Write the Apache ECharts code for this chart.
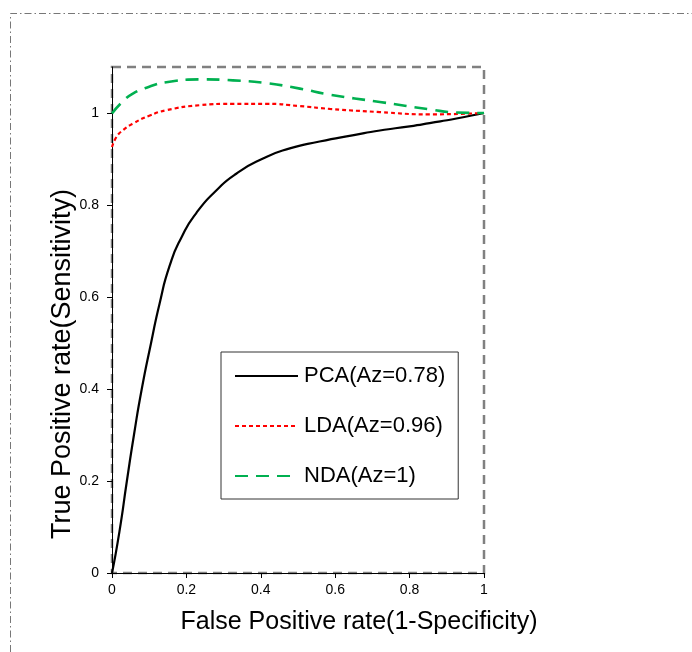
<!DOCTYPE html>
<html>
<head>
<meta charset="utf-8">
<script src="https://cdn.jsdelivr.net/npm/echarts@6/dist/echarts.min.js"></script>
<style>html,body{margin:0;padding:0;background:#fff;}#c{width:692px;height:652px;}</style>
</head>
<body>
<div id="c"></div>
<script>
const seriesNames = ['PCA(Az=0.78)', 'LDA(Az=0.96)', 'NDA(Az=1)'];
const pcaData = [[0,0],[0.02,0.09],[0.04,0.2],[0.059,0.3],[0.08,0.4],[0.105,0.5],[0.128,0.586],[0.155,0.668],[0.187,0.73],[0.227,0.783],[0.281,0.832],[0.334,0.868],[0.406,0.901],[0.478,0.923],[0.558,0.938],[0.65,0.952],[0.72,0.962],[0.8,0.971],[0.854,0.978],[0.926,0.988],[1,1]];
const ldaData = [[0,0.926],[0.012,0.948],[0.03,0.963],[0.056,0.977],[0.1,0.994],[0.146,1.006],[0.236,1.017],[0.325,1.02],[0.415,1.02],[0.505,1.015],[0.585,1.009],[0.72,1.002],[0.854,0.997],[1,1]];
const ndaData = [[0,0.999],[0.025,1.022],[0.056,1.042],[0.1,1.057],[0.146,1.067],[0.236,1.073],[0.325,1.071],[0.415,1.065],[0.505,1.053],[0.585,1.04],[0.72,1.024],[0.854,1.008],[0.926,1.001],[1,1]];
const xTicks = [0, 0.2, 0.4, 0.6, 0.8, 1];
const yTicks = [0, 0.2, 0.4, 0.6, 0.8, 1];
const xTitle = 'False Positive rate(1-Specificity)';
const yTitle = 'True Positive rate(Sensitivity)';

const chart = echarts.init(document.getElementById('c'), null, {renderer: 'canvas'});
const font = 'Liberation Sans, Arial, sans-serif';
chart.setOption({
  animation: false,
  backgroundColor: '#fff',
  graphic: [{
    type: 'polyline',
    shape: {points: [[10.5, 652], [10.5, 13.5], [692, 13.5]]},
    style: {stroke: '#777', lineWidth: 1, lineDash: [7, 3, 1.5, 3], fill: null},
    z: 0
  }, {
    type: 'text', x: 359, y: 622,
    style: {text: xTitle, font: '25px ' + font, fill: '#000', align: 'center', verticalAlign: 'middle'}
  }, {
    type: 'text', x: 63, y: 364, rotation: Math.PI / 2,
    style: {text: yTitle, font: '27px ' + font, fill: '#000', align: 'center', verticalAlign: 'middle'}
  }],
  grid: {
    left: 112, right: 208, top: 67, bottom: 79,
    show: true, borderColor: '#808080', borderWidth: 2.5, borderType: [9, 6],
    backgroundColor: 'transparent'
  },
  legend: {
    data: seriesNames,
    orient: 'vertical',
    left: 221, top: 352,
    backgroundColor: '#fff',
    borderColor: '#333', borderWidth: 1,
    padding: [12, 13, 11, 13],
    itemWidth: 63, itemHeight: 20, itemGap: 26,
    itemStyle: {opacity: 0, borderWidth: 0},
    textStyle: {fontFamily: font, fontSize: 22, color: '#000', lineHeight: 24, padding: [0, 0, 0, 1]},
    z: 10
  },
  xAxis: {
    type: 'value', min: 0, max: 1, interval: 0.2,
    axisLine: {show: true, onZero: false, lineStyle: {color: '#000', width: 1}},
    axisTick: {show: true, length: 5, lineStyle: {color: '#000'}, customValues: xTicks},
    axisLabel: {fontFamily: font, fontSize: 14, color: '#000', margin: 10, customValues: xTicks},
    splitLine: {show: false},
    z: 3
  },
  yAxis: {
    type: 'value', min: 0, max: 1.1, interval: 0.2,
    axisLine: {show: true, onZero: false, lineStyle: {color: '#000', width: 1}},
    axisTick: {show: true, length: 5, lineStyle: {color: '#000'}, customValues: yTicks},
    axisLabel: {fontFamily: font, fontSize: 14, color: '#000', margin: 13, customValues: yTicks},
    splitLine: {show: false},
    z: 3
  },
  series: [
    {name: seriesNames[0], type: 'line', data: pcaData, smooth: 0.6, symbol: 'none', color: '#000',
     lineStyle: {color: '#000', width: 2.2, type: 'solid'}},
    {name: seriesNames[1], type: 'line', data: ldaData, smooth: 0.5, symbol: 'none', color: '#ff0000',
     lineStyle: {color: '#ff0000', width: 2.2, type: [4, 3]}},
    {name: seriesNames[2], type: 'line', data: ndaData, smooth: 0.5, symbol: 'none', color: '#00b050',
     lineStyle: {color: '#00b050', width: 2.6, type: [13, 8]}}
  ]
});
</script>
</body>
</html>
